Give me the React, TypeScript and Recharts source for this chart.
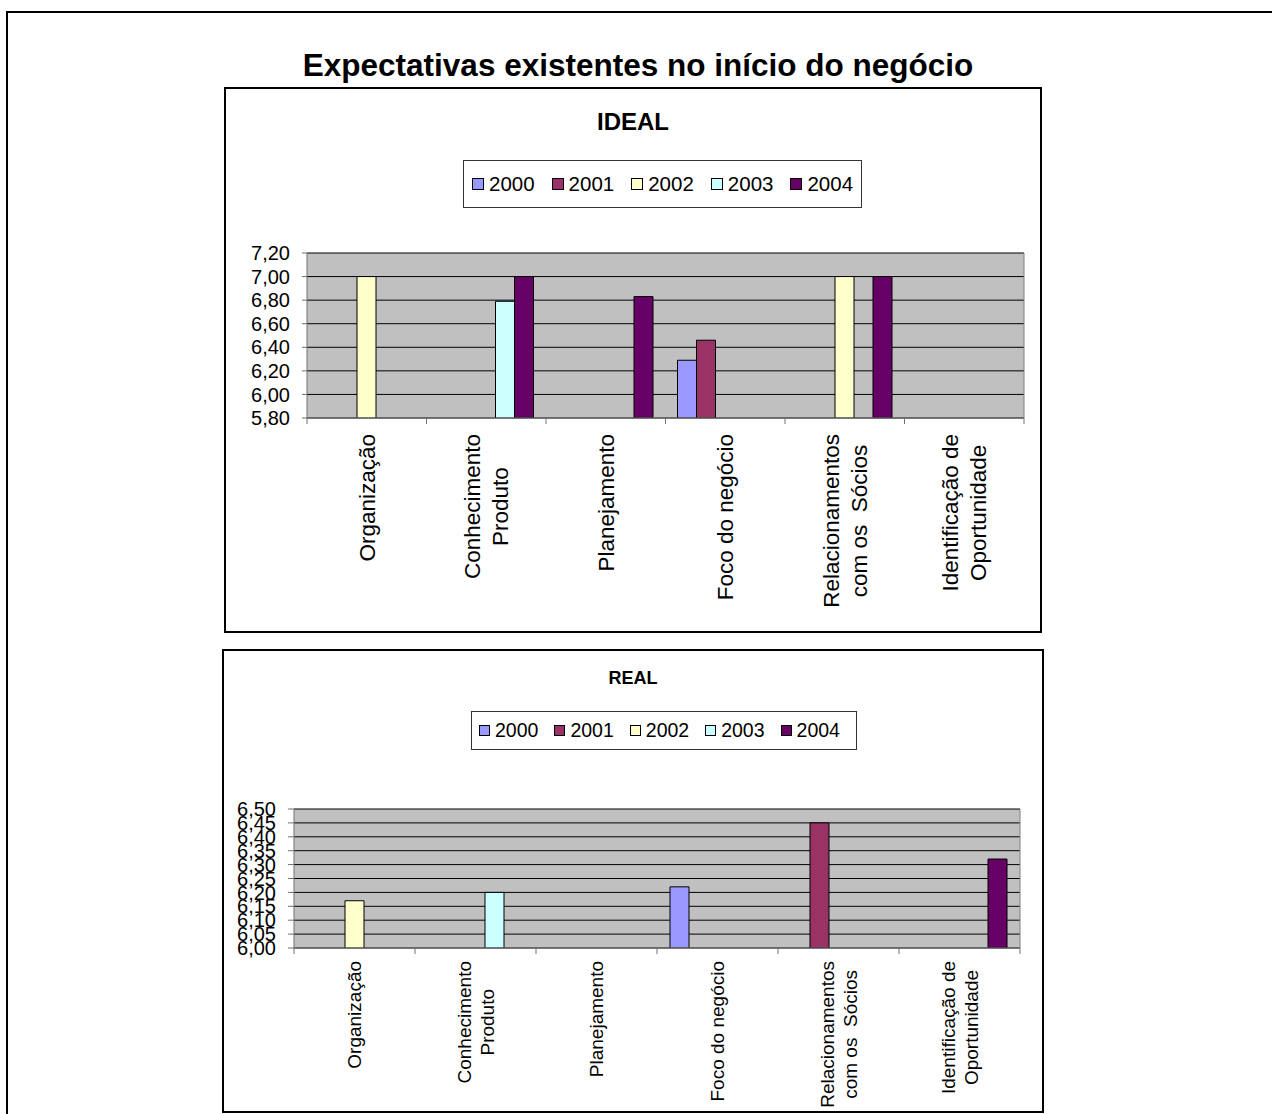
import { Bar, BarChart, CartesianGrid, XAxis, YAxis } from 'recharts';

const FONT = "Arial, 'Liberation Sans', sans-serif";

const categories = [
  'Organização',
  'Conhecimento\nProduto',
  'Planejamento',
  'Foco do negócio',
  'Relacionamentos\ncom os  Sócios',
  'Identificação de\nOportunidade',
];
const years = ['2000', '2001', '2002', '2003', '2004'];
const yearColors = ['#9999FF', '#993366', '#FFFFCC', '#CCFFFF', '#660066'];

// IDEAL
const ideal2000 = [null, null, null, 6.29, null, null];
const ideal2001 = [null, null, null, 6.46, null, null];
const ideal2002 = [7.0, null, null, null, 7.0, null];
const ideal2003 = [null, 6.79, null, null, null, null];
const ideal2004 = [null, 7.0, 6.83, null, 7.0, null];
const idealTicks = [5.8, 6.0, 6.2, 6.4, 6.6, 6.8, 7.0, 7.2];

// REAL
const real2000 = [null, null, null, 6.22, null, null];
const real2001 = [null, null, null, null, 6.45, null];
const real2002 = [6.17, null, null, null, null, null];
const real2003 = [null, 6.2, null, null, null, null];
const real2004 = [null, null, null, null, null, 6.32];
const realTicks = [6.0, 6.05, 6.1, 6.15, 6.2, 6.25, 6.3, 6.35, 6.4, 6.45, 6.5];

const toRows = (series: (number | null)[][]) =>
  categories.map((name, i) => {
    const row: any = { name };
    years.forEach((y, k) => (row[y] = series[k][i]));
    return row;
  });

const fmt = (v: number) => v.toFixed(2).replace('.', ',');

let canvas: HTMLCanvasElement | null = null;
const textWidth = (t: string, size: number) => {
  if (!canvas) canvas = document.createElement('canvas');
  const ctx = canvas.getContext('2d')!;
  ctx.font = `${size}px ${FONT}`;
  return ctx.measureText(t).width;
};

function CategoryTick({ x, y, payload, index, fontSize, lineHeight, pad, catWidth, count }: any) {
  const lines = String(payload.value).split('\n');
  const maxW = Math.max(...lines.map((l) => textWidth(l, fontSize)));
  const bx = x - catWidth / 2;
  return (
    <g>
      <line x1={bx} x2={bx} y1={y} y2={y + 6} stroke='#707070' />
      {index === count - 1 && (
        <line x1={bx + catWidth} x2={bx + catWidth} y1={y} y2={y + 6} stroke='#707070' />
      )}
      <g transform={`translate(${x},${y + pad}) rotate(-90)`}>
        {lines.map((l, i) => (
          <text
            key={i}
            x={-maxW / 2}
            y={(i - (lines.length - 1) / 2) * lineHeight}
            dy='0.35em'
            textAnchor='middle'
            fontSize={fontSize}
            fontFamily={FONT}
            fill='#000'
            style={{ whiteSpace: 'pre' }}
          >
            {l}
          </text>
        ))}
      </g>
    </g>
  );
}

function Panel(p: any) {
  const rows = toRows(p.series);
  const plotW = p.w - p.margin.left - p.yWidth - p.margin.right;
  const catWidth = plotW / categories.length;
  return (
    <div
      style={{
        position: 'absolute',
        left: p.left,
        top: p.top,
        width: p.w + 4,
        height: p.h + 4,
        border: '2px solid #000',
        boxSizing: 'border-box',
        background: '#fff',
      }}
    >
      <div
        style={{
          position: 'absolute',
          left: 0,
          top: p.titleTop,
          width: p.w,
          textAlign: 'center',
          fontFamily: FONT,
          fontWeight: 'bold',
          fontSize: p.titleSize,
          lineHeight: 1,
        }}
      >
        {p.title}
      </div>
      <div
        style={{
          position: 'absolute',
          left: p.legend.left,
          top: p.legend.top,
          width: p.legend.w,
          height: p.legend.h,
          border: '1px solid #333',
          boxSizing: 'border-box',
          display: 'flex',
          alignItems: 'center',
          paddingLeft: p.legend.pad,
          gap: p.legend.gap,
          fontFamily: FONT,
          fontSize: p.legend.size,
        }}
      >
        {years.map((y, k) => (
          <div key={y} style={{ display: 'flex', alignItems: 'center' }}>
            <span
              style={{
                display: 'inline-block',
                width: p.legend.sq,
                height: p.legend.sq,
                background: yearColors[k],
                border: '1px solid #000',
                boxSizing: 'border-box',
                marginRight: 5,
              }}
            />
            <span style={{ lineHeight: 1 }}>{y}</span>
          </div>
        ))}
      </div>
      <div style={{ position: 'absolute', left: 0, top: 0 }}>
        <BarChart
          width={p.w}
          height={p.h}
          data={rows}
          margin={p.margin}
          barGap={0}
          barSize={p.barSize}
        >
          <CartesianGrid
            horizontal={true}
            vertical={false}
            stroke='#000'
            fill='#C0C0C0'
            fillOpacity={1}
            horizontalValues={p.ticks}
          />
          <CartesianGrid
            horizontal={false}
            vertical={true}
            stroke='#808080'
            verticalCoordinatesGenerator={({ offset }: any) => [offset.left + offset.width]}
          />
          <XAxis
            dataKey='name'
            type='category'
            interval={0}
            height={p.xHeight}
            tickSize={0}
            tickMargin={0}
            tickLine={false}
            axisLine={{ stroke: '#707070' }}
            tick={
              <CategoryTick
                fontSize={p.xFont}
                lineHeight={p.xLine}
                pad={p.xPad}
                catWidth={catWidth}
                count={categories.length}
              />
            }
          />
          <YAxis
            type='number'
            domain={[p.ticks[0], p.ticks[p.ticks.length - 1]]}
            ticks={p.ticks}
            interval={0}
            allowDataOverflow={true}
            width={p.yWidth}
            tickSize={p.yTickSize}
            tickMargin={p.yMargin}
            tickLine={{ stroke: '#707070' }}
            axisLine={{ stroke: '#707070' }}
            tickFormatter={fmt}
            tick={{ fill: '#000', fontSize: p.yFont, fontFamily: FONT }}
          />
          {years.map((y, k) => (
            <Bar
              key={y}
              dataKey={y}
              fill={yearColors[k]}
              stroke='#000'
              strokeWidth={1}
              isAnimationActive={false}
            />
          ))}
        </BarChart>
      </div>
    </div>
  );
}

export default function App() {
  return (
    <div
      style={{
        position: 'absolute',
        left: 0,
        top: 0,
        width: 1272,
        height: 1114,
        overflow: 'hidden',
        background: '#fff',
      }}
    >
      <div
        style={{
          position: 'absolute',
          left: 6,
          top: 11,
          width: 1300,
          height: 1200,
          borderLeft: '2px solid #000',
          borderTop: '2px solid #000',
        }}
      />
      <div
        style={{
          position: 'absolute',
          left: 2,
          top: 50,
          width: 1272,
          textAlign: 'center',
          fontFamily: FONT,
          fontWeight: 'bold',
          fontSize: 31.5,
          lineHeight: 1,
        }}
      >
        Expectativas existentes no início do negócio
      </div>
      <Panel
        left={224}
        top={87}
        w={814}
        h={542}
        title='IDEAL'
        titleSize={24}
        titleTop={21}
        legend={{ left: 237, top: 71, w: 399, h: 48, pad: 8, gap: 17, sq: 12, size: 20.5 }}
        series={[ideal2000, ideal2001, ideal2002, ideal2003, ideal2004]}
        ticks={idealTicks}
        margin={{ top: 164, right: 16, left: 6, bottom: 13 }}
        yWidth={75}
        xHeight={200}
        barSize={19}
        yFont={20}
        yTickSize={5}
        yMargin={12}
        xFont={22.5}
        xLine={28}
        xPad={16}
      />
      <Panel
        left={222}
        top={649}
        w={818}
        h={460}
        title='REAL'
        titleSize={18}
        titleTop={18}
        legend={{ left: 247, top: 60, w: 386, h: 39, pad: 7, gap: 16, sq: 11, size: 19.5 }}
        series={[real2000, real2001, real2002, real2003, real2004]}
        ticks={realTicks}
        margin={{ top: 158, right: 22, left: 6, bottom: 13 }}
        yWidth={64}
        xHeight={150}
        barSize={19}
        yFont={20}
        yTickSize={6}
        yMargin={12}
        xFont={19}
        xLine={23}
        xPad={13}
      />
    </div>
  );
}
